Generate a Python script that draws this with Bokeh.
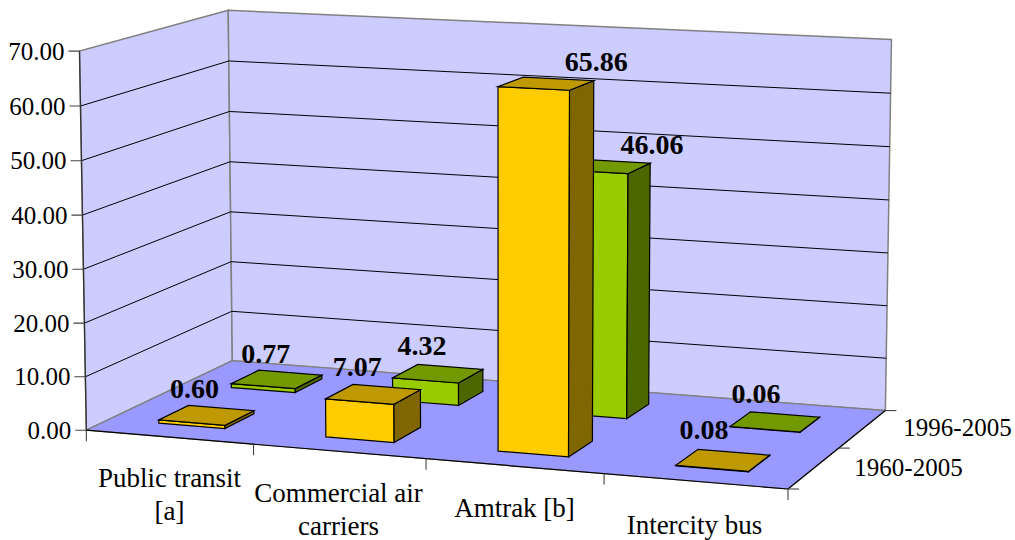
import numpy as np
from bokeh.plotting import figure
from bokeh.embed import file_html
from bokeh.resources import INLINE
from bokeh.core.properties import value

categories = [["Public transit", "[a]"], ["Commercial air", "carriers"], ["Amtrak [b]"], ["Intercity bus"]]
series_names = ["1960-2005", "1996-2005"]
values_1960 = [0.60, 7.07, 65.86, 0.08]
values_1996 = [0.77, 4.32, 46.06, 0.06]
y_ticks = [0, 10, 20, 30, 40, 50, 60, 70]

# camera calibration: (category pos, depth pos, value) -> picture pixel
world = np.array([(0,0,0),(4,0,0),(4,2,0),(0,2,0),(0,0,70),(0,2,70),(4,2,70)], float)
pix = np.array([(86,430),(787.3,488.5),(885,410),(231.7,360),(79,50.3),(227.7,10),(891,39)], float)
W = world / np.array([4, 2, 70]); P = pix / 1000
A = []
for (a, b, c), (u, v) in zip(W, P):
    A.append([a, b, c, 1, 0, 0, 0, 0, -u*a, -u*b, -u*c, -u])
    A.append([0, 0, 0, 0, a, b, c, 1, -v*a, -v*b, -v*c, -v])
M = np.linalg.svd(np.array(A))[2][-1].reshape(3, 4)

def pr(x, z, y):
    h = M @ np.array([x/4, z/2, y/70, 1.0])
    return float(h[0]/h[2]*1000), float(h[1]/h[2]*1000)

def poly(pts):
    q = [pr(*t) for t in pts]
    return [a for a, _ in q], [b for _, b in q]

p = figure(width=1015, height=540, x_range=(0, 1015), y_range=(540, 0),
           x_axis_type=None, y_axis_type=None, toolbar_location=None,
           output_backend="svg", min_border=0, outline_line_color=None,
           background_fill_color="white", border_fill_color="white")
p.grid.visible = False

GRAY = "#808080"
TEXT = "#000000"
def face(pts, fill, line="black", lw=1.2):
    xs, ys = poly(pts)
    p.patch(xs, ys, fill_color=fill, line_color=line, line_width=lw, line_join="miter")
def seg(a, b, color="black", lw=1.0):
    x0, y0 = a; x1, y1 = b
    p.line([x0, x1], [y0, y1], line_color=color, line_width=lw)

# walls and floor
ymax = y_ticks[-1]
face([(0,0,0),(0,2,0),(0,2,ymax),(0,0,ymax)], "#CCCCFF", GRAY, 1.5)
face([(0,2,0),(4,2,0),(4,2,ymax),(0,2,ymax)], "#CCCCFF", GRAY, 1.5)
face([(0,0,0),(4,0,0),(4,2,0),(0,2,0)], "#9999FF", GRAY, 1.2)
for t in y_ticks[1:-1]:
    seg(pr(0,0,t), pr(0,2,t))
    seg(pr(0,2,t), pr(4,2,t))
seg(pr(0,0,0), pr(0,0,ymax), "#333333", 1.3)
seg(pr(0,0,0), pr(4,0,0), "black", 1.2)
seg(pr(4,0,0), pr(4,2,0), "black", 1.2)

# ticks
for t in y_ticks:
    x, y = pr(0,0,t)
    seg((x-11, y), (x, y), "#444444", 1.1)
    p.text([x-15], [y], text=[f"{t:.2f}"], text_font=value("Liberation Serif"),
           text_font_size="25px", text_align="right", text_baseline="middle", text_color=TEXT)
for c in range(5):
    x, y = pr(c,0,0)
    seg((x, y), (x, y+11), "#444444", 1.1)
for s in range(3):
    x, y = pr(4,s,0)
    seg((x, y), (x+11, y), "#444444", 1.1)

# bars: back series first
W0, W1 = 0.3, 0.7
styles = {0: ("#FFCC00", "#BF9900", "#7F6600"), 1: ("#99CC00", "#729900", "#4C6600")}
def bar(c, s, v):
    front, top, side = styles[s]
    x0, x1, z0, z1 = c+W0, c+W1, s+W0, s+W1
    face([(x0,z0,0),(x1,z0,0),(x1,z0,v),(x0,z0,v)], front)
    face([(x1,z0,0),(x1,z1,0),(x1,z1,v),(x1,z0,v)], side)
    face([(x0,z0,v),(x1,z0,v),(x1,z1,v),(x0,z1,v)], top)
for s, vals in ((1, values_1996), (0, values_1960)):
    for c, v in enumerate(vals):
        bar(c, s, v)

# data labels: pixel offsets from the centre of each bar's top
label_offsets = {(0,0): (-12,-26), (1,0): (-16,-27), (2,0): (50,-22), (3,0): (-19,-30),
                 (0,1): (-11,-25), (1,1): (-16,-28), (2,1): (47,-21), (3,1): (-19,-28)}
for s, vals in ((1, values_1996), (0, values_1960)):
    for c, v in enumerate(vals):
        x, y = pr(c+0.5, s+0.5, v)
        dx, dy = label_offsets[(c, s)]
        p.text([x+dx], [y+dy], text=[f"{v:.2f}"], text_font=value("Liberation Serif"),
               text_font_size="28px", text_font_style="bold", text_align="center",
               text_baseline="middle", text_color=TEXT)

# category labels
cat_pos = [(169, [477, 510]), (338, [492, 525]), (514, [507]), (694, [524])]
for lines, (x, ys) in zip(categories, cat_pos):
    for t, y in zip(lines, ys):
        p.text([x], [y], text=[t], text_font=value("Liberation Serif"), text_font_size="27px",
               text_align="center", text_baseline="middle", text_color=TEXT)
for name, (x, y) in zip(series_names, [(908, 467), (957, 427)]):
    p.text([x], [y], text=[name], text_font=value("Liberation Serif"), text_font_size="25px",
           text_align="center", text_baseline="middle", text_color=TEXT)

open("out.html", "w").write(file_html(p, INLINE))
